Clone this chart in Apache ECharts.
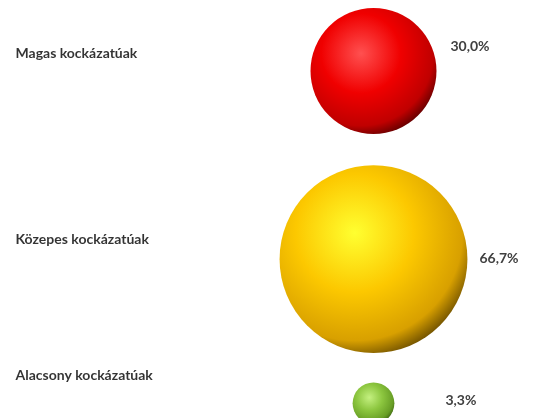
<!DOCTYPE html>
<html>
<head>
<meta charset="utf-8">
<script src="https://cdn.jsdelivr.net/npm/echarts@6/dist/echarts.min.js"></script>
<style>
  html, body { margin: 0; padding: 0; background: #ffffff; }
  #container-bubble { width: 539px; height: 418px; }
</style>
</head>
<body>
<div id="container-bubble"></div>
<script>
// data
const categories = ['Magas kockázatúak', 'Közepes kockázatúak', 'Alacsony kockázatúak']
const shares = [30.0, 66.7, 3.3]
const xPos = [1, 1, 1]
const yPos = [8.3, 3.8, 0.35]

// styles (gradient stops per bubble: highlight, body, shade, rim)
const bubbleColors = [
  ['#ff5050', '#f00000', '#c00000', '#500000'],
  ['#ffff30', '#fcc800', '#d8a000', '#5a4000'],
  ['#c4f080', '#8cc63f', '#689e26', '#3a6010']
]
const valueOffsets = [[14, -25], [12, -1], [51, -3]]
const nameOffsets = [-18, -20, -28]
const sizeScale = 23

const fmt = v => v.toFixed(1).replace('.', ',') + '%'

const chartDom = document.getElementById('container-bubble')
const myChart = echarts.init(chartDom)

const bubbleData = shares.map((v, i) => ({
  value: [xPos[i], yPos[i], v],
  itemStyle: {
    opacity: 1,
    color: new echarts.graphic.RadialGradient(0.4, 0.36, 0.7, [
      { offset: 0, color: bubbleColors[i][0] },
      { offset: 0.45, color: bubbleColors[i][1] },
      { offset: 0.82, color: bubbleColors[i][2] },
      { offset: 1, color: bubbleColors[i][3] }
    ])
  },
  label: { offset: valueOffsets[i] }
}))

const nameData = categories.map((c, i) => ({
  name: c,
  value: [xPos[i], yPos[i]],
  label: { position: [-358, nameOffsets[i]] }
}))

const option = {
  animation: false,
  grid: { left: 309, right: 101, top: 0, bottom: 0 },
  xAxis: { type: 'value', min: 0, max: 2, show: false },
  yAxis: { type: 'value', min: 0, max: 10, show: false },
  series: [
    {
      type: 'scatter',
      clip: false,
      data: bubbleData,
      symbolSize: val => sizeScale * Math.sqrt(val[2]),
      itemStyle: { opacity: 1 },
      label: {
        show: true,
        position: 'right',
        distance: 0,
        formatter: p => fmt(p.value[2]),
        color: '#404040',
        fontFamily: 'Lato',
        fontWeight: 'bold',
        fontSize: 14
      }
    },
    {
      type: 'scatter',
      clip: false,
      data: nameData,
      symbolSize: 0,
      silent: true,
      label: {
        show: true,
        align: 'left',
        verticalAlign: 'middle',
        formatter: p => p.name,
        color: '#000000',
        fontFamily: 'Lato',
        fontWeight: 'bold',
        fontSize: 14
      }
    }
  ]
}
myChart.setOption(option)
</script>
</body>
</html>
